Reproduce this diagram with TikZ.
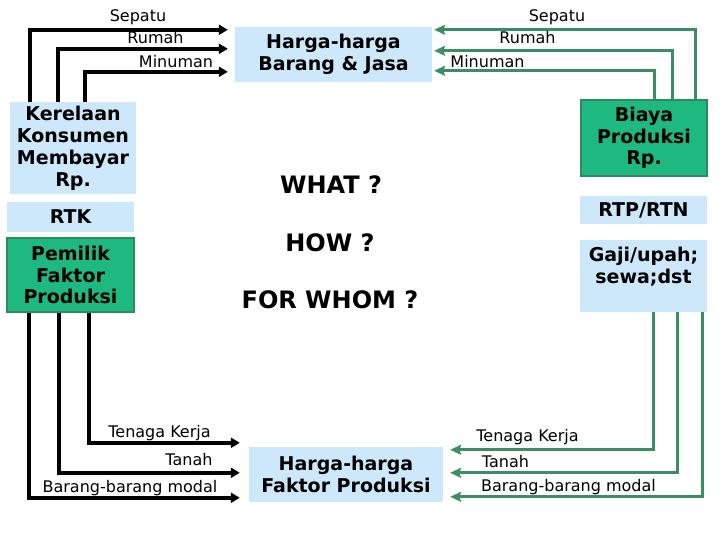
\documentclass[tikz,border=0pt]{standalone}
\usepackage{fontspec}
\setmainfont{DejaVu Sans}
\usepackage{xcolor}
\usetikzlibrary{arrows.meta,positioning,calc}
\definecolor{boxblue}{RGB}{204,232,250}
\definecolor{boxgreen}{RGB}{30,185,128}
\definecolor{edgegreen}{RGB}{45,140,95}
\definecolor{flowgreen}{RGB}{60,140,100}

\begin{document}
\begin{tikzpicture}[
    x=1pt, y=-1pt,
    bluebox/.style={rectangle, fill=boxblue, align=center, inner sep=0pt, font=\fontsize{19}{22}\selectfont\bfseries},
    greenbox/.style={rectangle, fill=boxgreen, draw=edgegreen, line width=1.5pt, align=center, inner sep=0pt, font=\fontsize{19}{21.5}\selectfont\bfseries},
    blkarrow/.style={-{Triangle[length=9pt,width=10pt]}, line width=3.8pt, black},
    grnarrow/.style={-{Stealth[length=11pt,width=10pt,inset=2pt]}, line width=3.2pt, flowgreen},
    lbl/.style={font=\fontsize{16}{18}\selectfont, inner sep=0pt},
    question/.style={font=\fontsize{24}{28}\selectfont\bfseries}
]
    \useasboundingbox (0,0) rectangle (720,540);

    % households side
    \node[bluebox, minimum width=126pt, minimum height=92pt] (kerelaan) at (73,148) {Kerelaan\\Konsumen\\Membayar\\Rp.};
    \node[bluebox, minimum width=127pt, minimum height=30pt] (rtk) at (70.5,217) {RTK};
    \node[greenbox, minimum width=127pt, minimum height=74pt] (pemilik) at (70.5,275) {Pemilik\\Faktor\\Produksi};

    % firms side
    \node[greenbox, minimum width=126pt, minimum height=76pt] (biaya) at (644,138) {Biaya\\Produksi\\Rp.};
    \node[bluebox, minimum width=127pt, minimum height=28pt] (rtp) at (643.5,210) {RTP/RTN};
    \node[bluebox, minimum width=127pt, minimum height=72pt] (gaji) at (643.5,276) {Gaji/upah;\\sewa;dst\\\mbox{}};

    % markets
    \node[bluebox, minimum width=197pt, minimum height=55pt] (hargabj) at (333.5,54.5) {Harga-harga\\Barang \& Jasa};
    \node[bluebox, minimum width=194pt, minimum height=55pt] (hargafp) at (346,474.5) {Harga-harga\\Faktor Produksi};

    % questions
    \node[question] (what) at (331,185) {WHAT ?};
    \node[question] (how) at (330,243) {HOW ?};
    \node[question] (forwhom) at (330,300) {FOR WHOM ?};

    % goods bought
    \draw[blkarrow] ([xshift=20pt]kerelaan.north west) |- ([xshift=-7pt,yshift=-3pt]hargabj.north west);
    \draw[blkarrow] ([xshift=48pt]kerelaan.north west) |- ([xshift=-7pt,yshift=-22pt]hargabj.north west);
    \draw[blkarrow] ([xshift=75pt]kerelaan.north west) |- ([xshift=-7pt,yshift=-45pt]hargabj.north west);
    \node[lbl] (sepatuL) at (138,17) {Sepatu};
    \node[lbl] (rumahL) at (155.5,38) {Rumah};
    \node[lbl] (minumanL) at (176,62) {Minuman};

    % goods sold
    \draw[grnarrow] ([xshift=115pt]biaya.north west) |- ([xshift=2pt,yshift=-3pt]hargabj.north east);
    \draw[grnarrow] ([xshift=92pt]biaya.north west) |- ([xshift=2pt,yshift=-24pt]hargabj.north east);
    \draw[grnarrow] ([xshift=74pt]biaya.north west) |- ([xshift=2pt,yshift=-44pt]hargabj.north east);
    \node[lbl] (sepatuR) at (557,17) {Sepatu};
    \node[lbl] (rumahR) at (527.5,38) {Rumah};
    \node[lbl] (minumanR) at (487.5,62) {Minuman};

    % factors offered
    \draw[blkarrow] ([xshift=83pt]pemilik.south west) |- ([xshift=-9pt,yshift=4pt]hargafp.north west);
    \draw[blkarrow] ([xshift=53pt]pemilik.south west) |- ([xshift=-9pt,yshift=-26pt]hargafp.north west);
    \draw[blkarrow] ([xshift=23pt]pemilik.south west) |- ([xshift=-9pt,yshift=-51pt]hargafp.north west);
    \node[lbl] (tenagaL) at (159.5,433) {Tenaga Kerja};
    \node[lbl] (tanahL) at (189,460) {Tanah};
    \node[lbl] (modalL) at (130,488) {Barang-barang modal};

    % factors demanded
    \draw[grnarrow] ([xshift=74pt]gaji.south west) |- ([xshift=7pt,yshift=-3pt]hargafp.north east);
    \draw[grnarrow] ([xshift=98pt]gaji.south west) |- ([xshift=7pt,yshift=-26pt]hargafp.north east);
    \draw[grnarrow] ([xshift=123pt]gaji.south west) |- ([xshift=7pt,yshift=-50pt]hargafp.north east);
    \node[lbl] (tenagaR) at (527.5,437) {Tenaga Kerja};
    \node[lbl] (tanahR) at (505.5,462) {Tanah};
    \node[lbl] (modalR) at (568.5,487) {Barang-barang modal};
\end{tikzpicture}
\end{document}
